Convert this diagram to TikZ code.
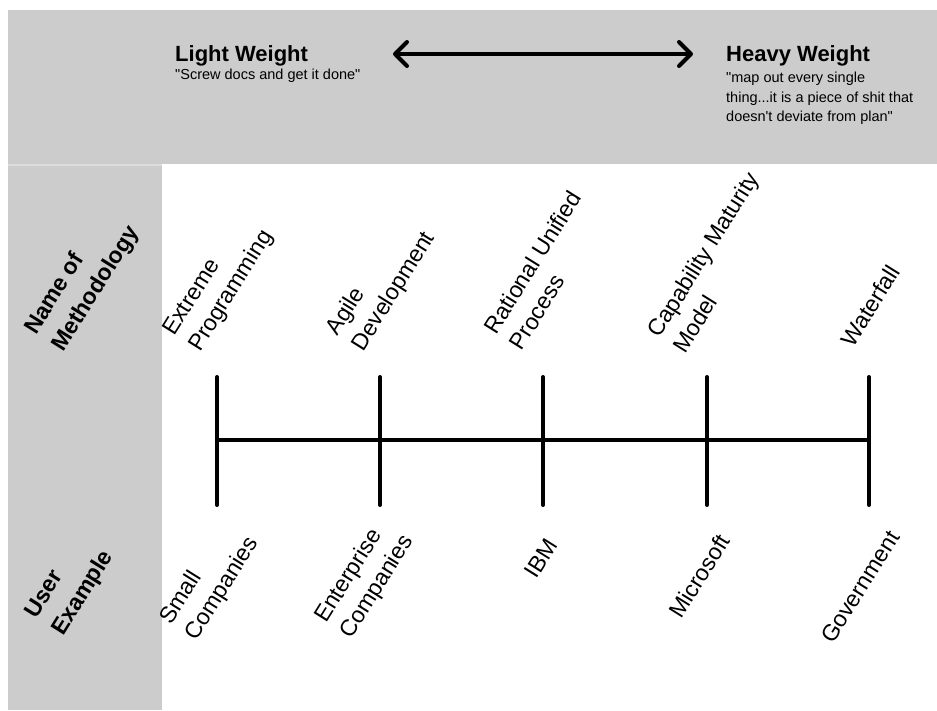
\documentclass[tikz,border=0pt]{standalone}
\usepackage{fontspec}
\setmainfont{Liberation Sans}
\newfontfamily\plainquote{Liberation Sans}
\usepackage{tikz}
\usetikzlibrary{arrows.meta}
\definecolor{cBand}{RGB}{204,204,204}
\definecolor{cSeam}{RGB}{221,221,221}
\tikzset{
  headnode/.style={inner sep=0pt,anchor=base west,
                   font=\bfseries\fontsize{22}{26}\selectfont},
  quotenode/.style={inner sep=0pt,anchor=base west,align=left,
                    font=\plainquote\fontsize{14.5}{19.5}\selectfont},
  rownode/.style={inner sep=0pt,anchor=base west,align=left,rotate=58,
                  font=\bfseries\fontsize{23}{32}\selectfont},
  methnode/.style={inner sep=0pt,anchor=base west,align=left,rotate=58,
                   font=\fontsize{23}{30}\selectfont},
  usernode/.style={methnode},
  tickline/.style={line width=4pt,line cap=round},
  axisline/.style={line width=4pt},
  rangearr/.style={{Straight Barb[length=12pt,width=24pt,round]}-%
                   {Straight Barb[length=12pt,width=24pt,round]},
                   line width=4pt}
}
\begin{document}
\begin{tikzpicture}[x=1pt,y=-1pt]
  \useasboundingbox (0,0) rectangle (937,710);
  \fill[white] (0,0) rectangle (937,710);

  % grey header band and left column
  \fill[cBand] (8,10) rectangle (937,164);
  \fill[cSeam] (8,164) rectangle (162,166);
  \fill[cBand] (8,166) rectangle (162,710);

  % header
  \node[headnode] (light) at (175,61) {Light Weight};
  \node[quotenode] (lightq) at (175,79.3) {"Screw docs and get it done"};
  \node[headnode] (heavy) at (726,61) {Heavy Weight};
  \node[quotenode] (heavyq) at (726,121.7)
      {"map out every single\\
       thing...it is a piece of shit that\\
       doesn't deviate from plan"};
  \coordinate (arrL) at (393,54);
  \coordinate (arrR) at (693,54);
  \draw[rangearr] (arrL) -- (arrR);

  % row headings (anchored on the last line)
  \node[rownode] (rowmeth) at (63.3,353) {Name of\\Methodology};
  \node[rownode] (rowuser) at (63.3,636.7) {User\\Example};

  % scale with ticks
  \coordinate (t1) at (217,440);
  \coordinate (t2) at (380,440);
  \coordinate (t3) at (543,440);
  \coordinate (t4) at (707,440);
  \coordinate (t5) at (869,440);
  \coordinate (t1a) at (217,377);  \coordinate (t1b) at (217,505);
  \coordinate (t2a) at (380,377);  \coordinate (t2b) at (380,505);
  \coordinate (t3a) at (543,377);  \coordinate (t3b) at (543,505);
  \coordinate (t4a) at (707,377);  \coordinate (t4b) at (707,505);
  \coordinate (t5a) at (869,377);  \coordinate (t5b) at (869,505);
  \draw[axisline] (t1) -- (t5);
  \draw[tickline] (t1a) -- (t1b);
  \draw[tickline] (t2a) -- (t2b);
  \draw[tickline] (t3a) -- (t3b);
  \draw[tickline] (t4a) -- (t4b);
  \draw[tickline] (t5a) -- (t5b);

  % methodologies
  \node[methnode] (xp)  at (200,353) {Extreme\\Programming};
  \node[methnode] (agile) at (363.3,352.7) {Agile\\Development};
  \node[methnode] (rup) at (521.7,351.7) {Rational Unified\\Process};
  \node[methnode] (cmm) at (685,355) {Capability Maturity\\Model};
  \node[methnode] (wf)  at (853.3,348.3) {Waterfall};

  % users
  \node[usernode] (small) at (196.7,641.7) {Small\\Companies};
  \node[usernode] (ent) at (351.7,640) {Enterprise\\Companies};
  \node[usernode] (ibm) at (536.7,580) {IBM};
  \node[usernode] (ms)  at (681.7,620) {Microsoft};
  \node[usernode] (gov) at (833.3,645) {Government};
\end{tikzpicture}
\end{document}
